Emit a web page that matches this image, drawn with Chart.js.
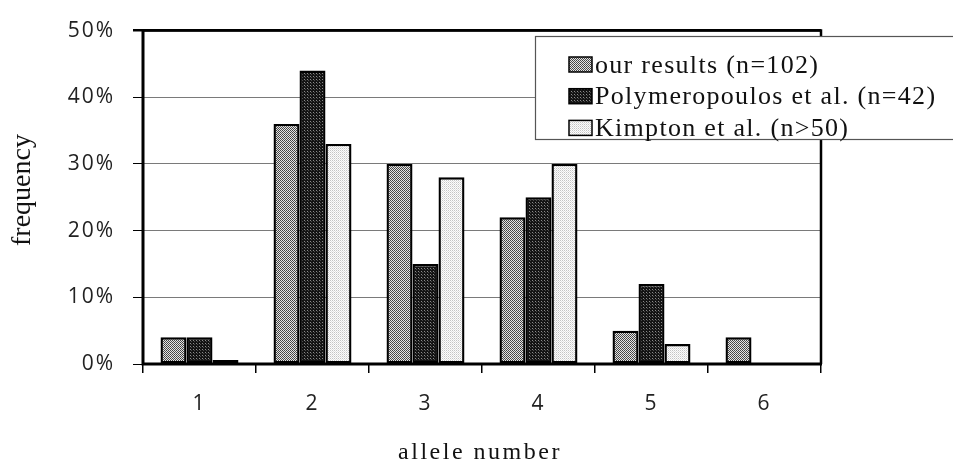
<!DOCTYPE html>
<html>
<head>
<meta charset="utf-8">
<script src="https://cdn.jsdelivr.net/npm/chart.js@4.4.1/dist/chart.umd.min.js"></script>
<style>
html,body{margin:0;padding:0;background:#fff;}
#wrap{width:953px;height:465px;position:relative;}
</style>
</head>
<body>
<div id="wrap"><canvas id="c" width="953" height="465"></canvas></div>
<script>
const categories = ['1', '2', '3', '4', '5', '6'];
const seriesLabels = ['our results (n=102)', 'Polymeropoulos et al. (n=42)', 'Kimpton et al. (n>50)'];
const ourResults = [4, 36, 30, 22, 5, 4];
const polymeropoulos = [4, 44, 15, 25, 12, 0];
const kimpton = [0.6, 33, 28, 30, 3, 0];
const yTicks = [0, 10, 20, 30, 40, 50];
const xTitle = 'allele number';
const yTitle = 'frequency';

function makePattern(size, pixels, base) {
  const c = document.createElement('canvas');
  c.width = size; c.height = size;
  const x = c.getContext('2d');
  x.fillStyle = base; x.fillRect(0, 0, size, size);
  pixels.forEach(p => { x.fillStyle = p[2]; x.fillRect(p[0], p[1], 1, 1); });
  return document.getElementById('c').getContext('2d').createPattern(c, 'repeat');
}
const pat1 = makePattern(2, [[0,0,'#404040'],[1,1,'#505050']], '#e4e4e4');
const pat2 = makePattern(3, [[1,1,'#8a8a8a'],[2,2,'#4a4a4a']], '#141414');
const pat3 = makePattern(2, [[0,0,'#c4c4c4'],[1,1,'#e0e0e0']], '#fdfdfd');
const patterns = [pat1, pat2, pat3];

const framePlugin = {
  id: 'frame',
  beforeDraw(chart) { chart.ctx.letterSpacing = '2px'; },
  afterDatasetsDraw(chart) {
    const a = chart.chartArea, ctx = chart.ctx;
    ctx.save();
    ctx.strokeStyle = '#000';
    ctx.lineWidth = 2.5;
    ctx.beginPath();
    ctx.moveTo(a.left, a.top); ctx.lineTo(a.right, a.top); ctx.lineTo(a.right, a.bottom);
    ctx.stroke();
    ctx.lineWidth = 3;
    ctx.beginPath();
    ctx.moveTo(a.left, a.top - 1); ctx.lineTo(a.left, a.bottom); ctx.lineTo(a.right + 1, a.bottom);
    ctx.stroke();
    ctx.restore();
  },
  afterDraw(chart) {
    const ctx = chart.ctx, a = chart.chartArea;
    ctx.save();
    // axis titles
    ctx.fillStyle = '#111';
    ctx.font = '24px "Liberation Serif"';
    ctx.letterSpacing = '2.5px';
    ctx.textAlign = 'center';
    ctx.textBaseline = 'alphabetic';
    ctx.fillText(xTitle, (a.left + a.right) / 2 - 2, 459);
    ctx.save();
    ctx.translate(30, 190);
    ctx.rotate(-Math.PI / 2);
    ctx.font = '28px "Liberation Serif"';
    ctx.letterSpacing = '0px';
    ctx.fillText(yTitle, 0, 0);
    ctx.restore();
    // legend
    const bx = 535, by = 36, bw = 430, bh = 103;
    ctx.fillStyle = '#fff';
    ctx.fillRect(bx, by, bw, bh);
    ctx.strokeStyle = '#555';
    ctx.lineWidth = 1.2;
    ctx.strokeRect(bx + 0.5, by + 0.5, bw, bh);
    ctx.font = '26px "Liberation Serif"';
    ctx.letterSpacing = '1.3px';
    ctx.textAlign = 'left';
    chart.data.datasets.forEach((ds, i) => {
      const cy = 64.5 + i * 31.7;
      ctx.fillStyle = ds.backgroundColor;
      ctx.fillRect(569, cy - 7.5, 23, 15);
      ctx.strokeStyle = '#000';
      ctx.lineWidth = 1.5;
      ctx.strokeRect(569, cy - 7.5, 23, 15);
      ctx.fillStyle = '#111';
      ctx.fillText(ds.label, 595, cy + 8);
    });
    ctx.restore();
  }
};

new Chart(document.getElementById('c'), {
  type: 'bar',
  data: {
    labels: categories,
    datasets: [
      { label: seriesLabels[0], data: ourResults, backgroundColor: patterns[0] },
      { label: seriesLabels[1], data: polymeropoulos, backgroundColor: patterns[1] },
      { label: seriesLabels[2], data: kimpton, backgroundColor: patterns[2] }
    ].map(d => Object.assign(d, { borderColor: '#000', borderWidth: 2.4, borderSkipped: false,
      categoryPercentage: 0.69, barPercentage: 1.0 }))
  },
  options: {
    responsive: false,
    animation: false,
    devicePixelRatio: 1,
    layout: { padding: { top: 16, right: 132, left: 0, bottom: 0 } },
    plugins: { legend: { display: false }, tooltip: { enabled: false } },
    scales: {
      x: {
        offset: true,
        grid: { offset: true, drawOnChartArea: false, color: '#000', lineWidth: 1.5, tickLength: 9 },
        border: { display: false },
        ticks: { color: '#222', font: { family: '"Open Sans"', size: 21 }, padding: 18 },
        afterFit(s) { s.height = 101; }
      },
      y: {
        min: 0, max: 50,
        afterBuildTicks(s) { s.ticks = yTicks.map(v => ({ value: v })); },
        grid: {
          color: c => c.tick && c.tick.value === 50 ? '#000' : (c.tick && c.tick.value === 0 ? 'rgba(0,0,0,0)' : '#7a7a7a'),
          lineWidth: c => c.tick && c.tick.value === 50 ? 2.5 : 1,
          tickColor: '#000', tickLength: 10
        },
        border: { display: false },
        ticks: { color: '#222', font: { family: '"Open Sans"', size: 21 }, padding: 18,
          callback: v => v + '%' },
        afterFit(s) { s.width = 143; }
      }
    }
  },
  plugins: [framePlugin]
});
</script>
</body>
</html>
